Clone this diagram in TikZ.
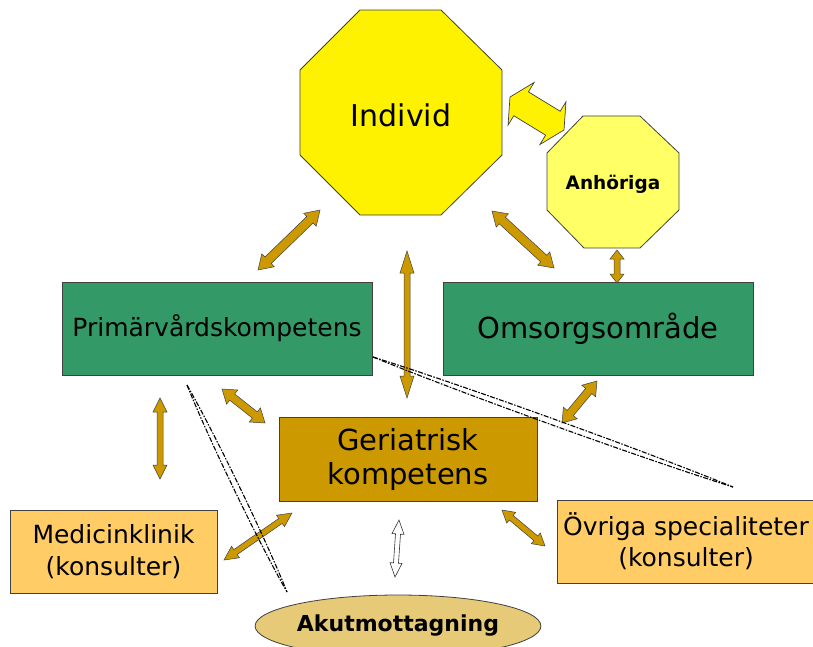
\documentclass[tikz,border=0pt]{standalone}
\usepackage{fontspec}
\setmainfont{DejaVu Sans}
\usetikzlibrary{calc,shapes.geometric}
\definecolor{boxgreen}{HTML}{339966}
\definecolor{gold}{HTML}{CC9900}
\definecolor{lightorange}{HTML}{FFCC66}
\definecolor{paleyellow}{HTML}{FFFF66}
\definecolor{ellfill}{HTML}{E6CA78}
\definecolor{edge}{HTML}{404040}
\newcommand\blockarr[6]{%
  \coordinate (ba1) at ($(#1)!#5!(#2)$);
  \coordinate (ba2) at ($(#2)!#5!(#1)$);
  \draw[#6] (#1) -- ($(ba1)!#4!90:(#2)$) -- ($(ba1)!#3!90:(#2)$)
    -- ($(ba2)!#3!-90:(#1)$) -- ($(ba2)!#4!-90:(#1)$) -- (#2)
    -- ($(ba2)!#4!90:(#1)$) -- ($(ba2)!#3!90:(#1)$)
    -- ($(ba1)!#3!-90:(#2)$) -- ($(ba1)!#4!-90:(#2)$) -- cycle;
}
\begin{document}
\begin{tikzpicture}[x=1pt,y=-1pt,
  boxbase/.style={draw=edge, line width=0.8pt, inner sep=0pt, align=center, text=black},
  gbox/.style={boxbase, fill=boxgreen},
  goldbox/.style={boxbase, fill=gold},
  obox/.style={boxbase, fill=lightorange},
  octo/.style={draw=edge, line width=0.8pt},
  goldarrow/.style={fill=gold, draw=black!75, line width=0.5pt, line join=miter},
  whitearrow/.style={fill=white, draw=black!80, line width=0.6pt, line join=miter},
  yelarrow/.style={fill=yellow, draw=edge, line width=0.7pt, line join=miter},
  dashline/.style={draw=black, line width=1.1pt, dash pattern=on 5pt off 1.5pt on 1.5pt off 1.5pt}
]
\useasboundingbox (0,0) rectangle (813,646);
\clip (0,0) rectangle (813,646);
\fill[white] (0,0) rectangle (813,646);

% octagons
\draw[octo, fill=yellow] (360,10) -- (441,10) -- (502,70) -- (502,155) -- (441,215) -- (360,215) -- (300,155) -- (300,70) -- cycle;
\node[font=\fontsize{30}{34}\selectfont] (individ) at (401,115) {Individ};
\draw[octo, fill=paleyellow] (583,116) -- (640,116) -- (679,153) -- (679,210) -- (640,248) -- (584,248) -- (547,210) -- (547,153) -- cycle;
\node[font=\fontsize{18.5}{22}\selectfont\bfseries] (anh) at (613,184) {Anhöriga};

% boxes
\node[gbox, minimum width=310, minimum height=93, font=\fontsize{25}{30}\selectfont] (prim) at (217,328.5) {Primärvårdskompetens};
\node[gbox, minimum width=310, minimum height=93, font=\fontsize{29}{34}\selectfont] (omsorg) at (598,328.5) {Omsorgsområde};
\node[goldbox, minimum width=258, minimum height=84, font=\fontsize{29}{34}\selectfont] (geri) at (408,459) {Geriatrisk\\kompetens};
\node[obox, minimum width=207, minimum height=83, font=\fontsize{25}{32}\selectfont] (medicin) at (113.5,551.5) {Medicinklinik\\(konsulter)};
\node[obox, minimum width=258, minimum height=83, font=\fontsize{25}{31}\selectfont] (ovriga) at (686,541.5) {Övriga specialiteter\\(konsulter)};
\node[ellipse, draw=edge, line width=0.8pt, fill=ellfill, minimum width=283, minimum height=62, inner sep=0pt, font=\fontsize{22}{26}\selectfont\bfseries] (akut) at (398,626) {Akutmottagning};

% arrow end points
\coordinate (a1s) at (258,270); \coordinate (a1e) at (320,210);
\coordinate (a2s) at (492,211); \coordinate (a2e) at (554,268);
\coordinate (a3s) at (407,251); \coordinate (a3e) at (407,398);
\coordinate (a4s) at (617,250); \coordinate (a4e) at (617,283);
\coordinate (a5s) at (160,398); \coordinate (a5e) at (160,479);
\coordinate (a6s) at (222,389); \coordinate (a6e) at (265,423);
\coordinate (a7s) at (597,381); \coordinate (a7e) at (562,423);
\coordinate (a8s) at (224,560); \coordinate (a8e) at (292,513);
\coordinate (a9s) at (502,510); \coordinate (a9e) at (545,546);
\coordinate (a10s) at (399,520); \coordinate (a10e) at (395,577);
\coordinate (ys) at (510,97); \coordinate (ye) at (564,130);

\blockarr{a1s}{a1e}{4.5pt}{9pt}{14pt}{goldarrow}
\blockarr{a2s}{a2e}{4.5pt}{9pt}{14pt}{goldarrow}
\blockarr{a3s}{a3e}{3pt}{7pt}{22pt}{goldarrow}
\blockarr{a4s}{a4e}{3pt}{7pt}{9pt}{goldarrow}
\blockarr{a5s}{a5e}{3pt}{7pt}{14pt}{goldarrow}
\blockarr{a6s}{a6e}{4pt}{9pt}{13pt}{goldarrow}
\blockarr{a7s}{a7e}{4pt}{9pt}{13pt}{goldarrow}
\blockarr{a8s}{a8e}{3pt}{7pt}{14pt}{goldarrow}
\blockarr{a9s}{a9e}{3pt}{7pt}{12pt}{goldarrow}
\blockarr{a10s}{a10e}{2.5pt}{6pt}{14pt}{whitearrow}
\blockarr{ys}{ye}{14pt}{25pt}{13pt}{yelarrow}

% dash-dot double lines
\coordinate (d1s) at (187,385); \coordinate (d1e) at (287,592);
\coordinate (d2s) at (373,357); \coordinate (d2e) at (733,487);
\draw[dashline] (d1s) .. controls (215.6,435) and (265.6,538.5) .. (d1e);
\draw[dashline] (d1s) .. controls (208.4,438.5) and (258.4,542) .. (d1e);
\draw[dashline] (d2s) .. controls (461.6,393.3) and (641.6,458.3) .. (d2e);
\draw[dashline] (d2s) .. controls (464.4,385.7) and (644.4,450.7) .. (d2e);
\end{tikzpicture}
\end{document}
